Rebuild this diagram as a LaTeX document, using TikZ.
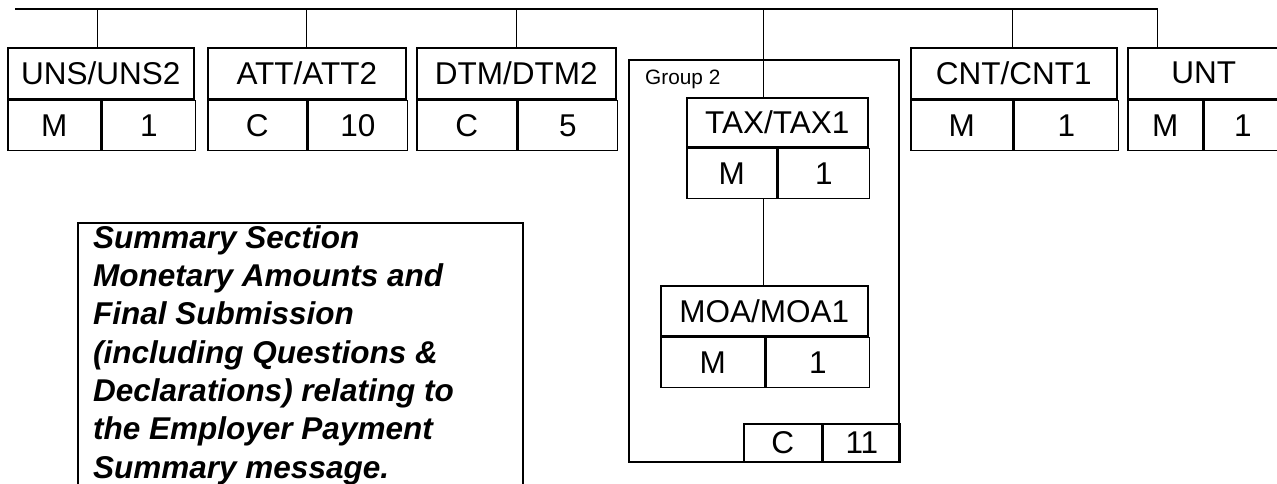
\documentclass[tikz,border=0pt]{standalone}
\usepackage{fontspec}
\setmainfont{Liberation Sans}
\begin{document}
\begin{tikzpicture}[x=1pt,y=-1pt,
  cell/.style={draw,line width=1.6pt,inner sep=0pt,anchor=north west,font=\fontsize{31.5}{36}\selectfont},
  frame/.style={draw,line width=1.6pt},
  conn/.style={line width=1pt},
  note/.style={anchor=base west,inner sep=0pt,font=\fontsize{31.5}{36.7}\selectfont\bfseries\itshape}]
\useasboundingbox (0,0) rectangle (1277,484);
% top bus
\coordinate (busL) at (15,9);
\coordinate (busR) at (1158,9);
\draw[line width=1.4pt] (busL) -- (busR);
\coordinate (t1) at (97,9);
\coordinate (t2) at (306,9);
\coordinate (t3) at (516,9);
\coordinate (t4) at (763,9);
\coordinate (t5) at (1012,9);
\coordinate (t6) at (1157,9);
% UNS
\node[cell,minimum width=186,minimum height=51] (uns) at (7,47) {UNS/UNS2};
\node[cell,minimum width=93,minimum height=50] (unsS) at (uns.south west) {M};
\node[cell,minimum width=93,minimum height=50] (unsR) at (unsS.north east) {1};
% ATT
\node[cell,minimum width=198,minimum height=51] (att) at (207,47) {ATT/ATT2};
\node[cell,minimum width=99,minimum height=50] (attS) at (att.south west) {C};
\node[cell,minimum width=99,minimum height=50] (attR) at (attS.north east) {10};
% DTM
\node[cell,minimum width=199,minimum height=51] (dtm) at (416,47) {DTM/DTM2};
\node[cell,minimum width=100,minimum height=50] (dtmS) at (dtm.south west) {C};
\node[cell,minimum width=99,minimum height=50] (dtmR) at (dtmS.north east) {5};
% CNT
\node[cell,minimum width=206,minimum height=51] (cnt) at (910,47) {CNT/CNT1};
\node[cell,minimum width=102,minimum height=50] (cntS) at (cnt.south west) {M};
\node[cell,minimum width=104,minimum height=50] (cntR) at (cntS.north east) {1};
% UNT
\node[cell,minimum width=152,minimum height=51] (unt) at (1127,47) {UNT};
\node[cell,minimum width=75,minimum height=50] (untS) at (unt.south west) {M};
\node[cell,minimum width=77,minimum height=50] (untR) at (untS.north east) {1};
% Group 2
\node[frame,inner sep=0pt,anchor=north west,minimum width=270,minimum height=402] (grp) at (628,59) {};
\node[anchor=west,inner sep=0pt,font=\fontsize{20.8}{24}\selectfont] (grpl) at (645,79) {Group 2};
\node[cell,minimum width=181,minimum height=49] (tax) at (686,97) {TAX/TAX1};
\node[cell,minimum width=90,minimum height=50] (taxS) at (tax.south west) {M};
\node[cell,minimum width=91,minimum height=50] (taxR) at (taxS.north east) {1};
\node[cell,minimum width=207,minimum height=50] (moa) at (660,285) {MOA/MOA1};
\node[cell,minimum width=104,minimum height=50] (moaS) at (moa.south west) {M};
\node[cell,minimum width=103,minimum height=50] (moaR) at (moaS.north east) {1};
\node[cell,minimum width=78,minimum height=38] (grpS) at (743,423) {C};
\node[cell,minimum width=77,minimum height=38] (grpR) at (grpS.north east) {11};
% connectors
\draw[conn] (t1) -- (t1 |- uns.north);
\draw[conn] (t2) -- (t2 |- att.north);
\draw[conn] (t3) -- (t3 |- dtm.north);
\draw[conn] (t4) -- (t4 |- tax.north);
\draw[conn] (t5) -- (t5 |- cnt.north);
\draw[conn] (t6) -- (t6 |- unt.north);
\draw[conn] (t4 |- taxS.south) -- (t4 |- moa.north);
% note box
\coordinate (nbl) at (78,492);
\coordinate (nbr) at (523,492);
\draw[line width=1.4pt] (nbl) |- (523,223) -- (nbr);
\node[note] (n1) at (93,248.3) {Summary Section};
\node[note] (n2) at (93,286.6) {Monetary Amounts and};
\node[note] (n3) at (93,324.9) {Final Submission};
\node[note] (n4) at (93,363.2) {(including Questions \&};
\node[note] (n5) at (93,401.5) {Declarations) relating to};
\node[note] (n6) at (93,439.8) {the Employer Payment};
\node[note] (n7) at (93,478.1) {Summary message.};
\end{tikzpicture}
\end{document}
